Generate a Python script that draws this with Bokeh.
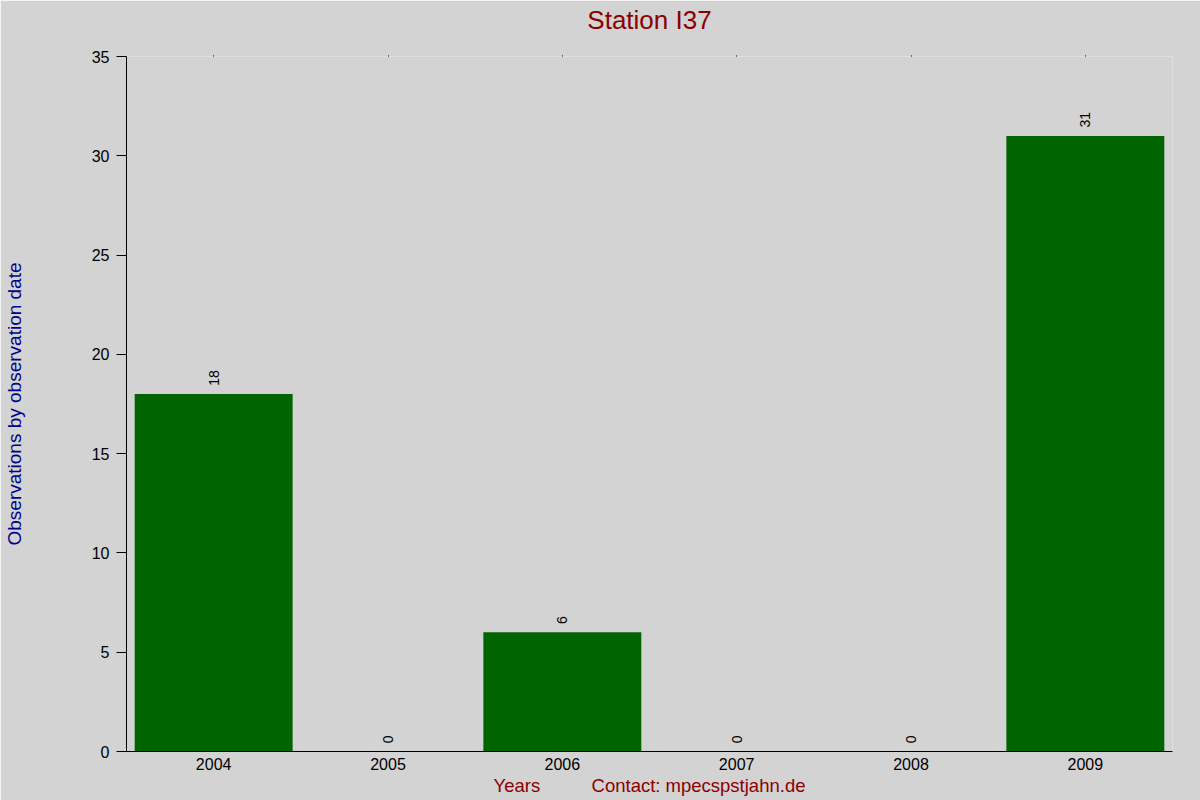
import math
from bokeh.plotting import figure
from bokeh.models import (ColumnDataSource, FactorRange, Range1d,
                          CategoricalAxis, FixedTicker)
from bokeh.core.properties import value
from bokeh.embed import file_html
from bokeh.resources import INLINE

# ---- data ----
years = ["2004", "2005", "2006", "2007", "2008", "2009"]
counts = [18, 0, 6, 0, 0, 31]
y_ticks = [0, 5, 10, 15, 20, 25, 30, 35]
title_text = "Station I37"
ylabel_text = "Observations by observation date"
xlabel_text = "Years"
contact_text = "Contact: mpecspstjahn.de"

BG = "#d3d3d3"
FONT = "Liberation Sans"
RED = "#8B0000"

src = ColumnDataSource(dict(
    year=years,
    count=counts,
    label_y=[c + 0.42 for c in counts],
    label=[str(c) for c in counts],
))

p = figure(
    width=1200, height=800, title=None,
    x_range=FactorRange(*years, range_padding=0),
    y_range=Range1d(0, 35),
    output_backend="svg", toolbar_location=None,
    min_border_left=126, min_border_right=28,
    min_border_top=56, min_border_bottom=49,
)
p.background_fill_color = BG
p.border_fill_color = BG
p.outline_line_color = None
p.xgrid.visible = False
p.ygrid.visible = False

p.vbar(x="year", top="count", width=0.906, source=src,
       fill_color="#006400", line_color=None)

p.text(x="year", y="label_y", text="label", source=src, angle=math.pi / 2,
       text_align="left", text_baseline="middle",
       text_font=value(FONT), text_font_size="14px", text_color="black")

# y axis
ya = p.yaxis[0]
ya.ticker = FixedTicker(ticks=y_ticks)
ya.minor_tick_line_color = None
ya.major_tick_in = 0
ya.major_tick_out = 10
ya.major_label_standoff = 7
ya.major_label_text_font = FONT
ya.major_label_text_font_size = "16px"
ya.major_label_text_color = "black"
ya.axis_line_color = "black"
ya.axis_label = ylabel_text
ya.axis_label_text_font = FONT
ya.axis_label_text_font_size = "19px"
ya.axis_label_text_font_style = "normal"
ya.axis_label_text_color = "#00008B"
ya.axis_label_standoff = 64

# x axis
xa = p.xaxis[0]
xa.major_tick_line_color = None
xa.minor_tick_line_color = None
xa.major_label_standoff = 0
xa.major_label_text_font = FONT
xa.major_label_text_font_size = "16px"
xa.major_label_text_color = "black"
xa.axis_line_color = "black"
xa.axis_label = xlabel_text + "\u00a0" * 10 + contact_text
xa.axis_label_text_font = FONT
xa.axis_label_text_font_size = "18.5px"
xa.axis_label_text_font_style = "normal"
xa.axis_label_text_color = RED
xa.axis_label_standoff = 2

# top axis: tiny tick dots, carries the chart title as its label
top_ax = CategoricalAxis(axis_line_color=None, major_label_text_font_size="0px",
                         major_label_standoff=0,
                         major_tick_in=0, major_tick_out=1,
                         major_tick_line_color="black", minor_tick_line_color=None,
                         major_label_text_color=None,
                         axis_label=title_text, axis_label_text_font=FONT,
                         axis_label_text_font_size="26px",
                         axis_label_text_font_style="normal",
                         axis_label_text_color=RED,
                         axis_label_standoff=21)
p.add_layout(top_ax, "above")

open("out.html", "w").write(file_html(p, INLINE))
